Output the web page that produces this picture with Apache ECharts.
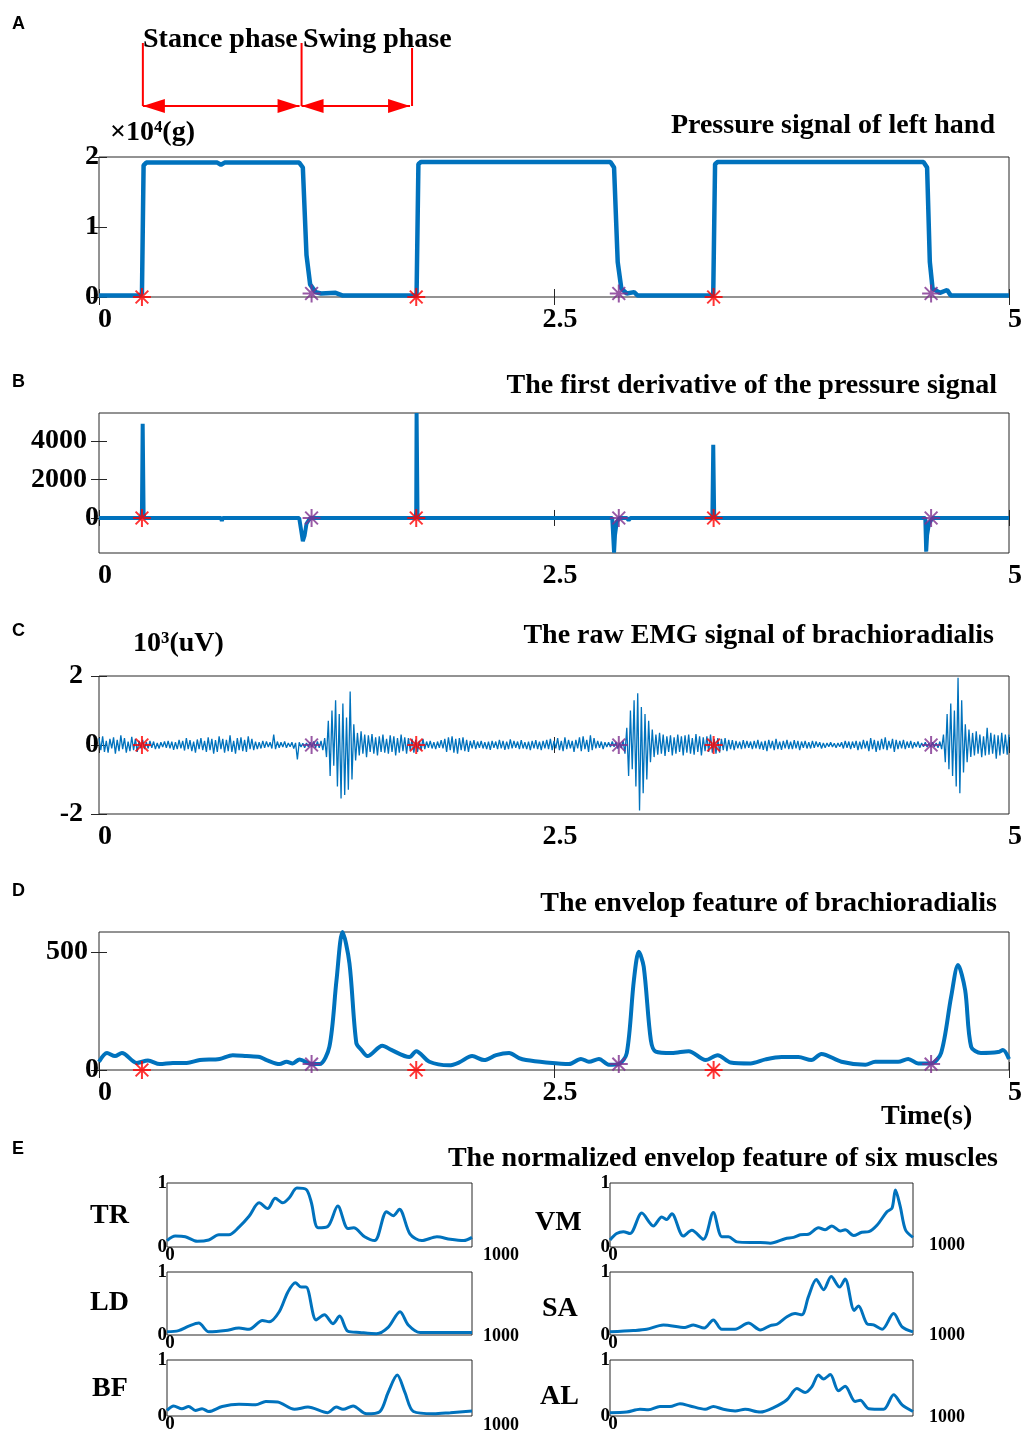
<!DOCTYPE html>
<html>
<head>
<meta charset="utf-8">
<script src="https://cdn.jsdelivr.net/npm/echarts@6/dist/echarts.min.js"></script>
<style>
html, body { margin: 0; padding: 0; background: #fff; }
#chart { width: 1025px; height: 1434px; }
</style>
</head>
<body>
<div id="chart"></div>
<script>
// ---------- data ----------
// A: pressure signal, x104 g
const pressureTime = [0, 0.22, 0.236, 0.245, 0.26, 0.65, 0.67, 0.69, 1.10, 1.12,
  1.14, 1.16, 1.19, 1.22, 1.30, 1.34, 1.74, 1.745, 1.755, 1.77,
  2.81, 2.83, 2.85, 2.87, 2.90, 2.94, 2.96, 3.37, 3.375, 3.385,
  3.40, 4.53, 4.55, 4.565, 4.58, 4.62, 4.66, 4.68, 5.0];
const pressureValue = [0.02, 0.02, 0.05, 1.88, 1.92, 1.92, 1.89, 1.92, 1.92, 1.85,
  0.6, 0.18, 0.07, 0.05, 0.06, 0.02, 0.02, 0.05, 1.9, 1.93,
  1.93, 1.85, 0.5, 0.12, 0.05, 0.07, 0.02, 0.02, 0.05, 1.9,
  1.93, 1.93, 1.85, 0.5, 0.12, 0.06, 0.1, 0.02, 0.02];

// B: first derivative
const derivTime = [0, 0.23, 0.236, 0.24, 0.245, 0.25, 0.67, 0.675, 0.68, 1.10,
  1.11, 1.12, 1.13, 1.14, 1.16, 1.30, 1.31, 1.32, 1.74, 1.743,
  1.745, 1.75, 1.755, 2.82, 2.83, 2.835, 2.845, 2.86, 2.90, 2.91,
  2.92, 3.37, 3.375, 3.38, 3.385, 4.54, 4.545, 4.55, 4.56, 4.58,
  4.62, 4.63, 5.0];
const derivValue = [0, 0, 300, 4900, 200, 0, 0, -150, 0, 0,
  -600, -1200, -900, -300, 0, 0, -100, 0, 0, 400,
  5450, 200, 0, 0, -1800, -900, -200, 0, 0, -120,
  0, 0, 3800, 200, 0, 0, -1750, -900, -300, 0,
  0, -100, 0];

// C: raw EMG, x103 uV, one sample every 0.01 s (20 per row = 0.2 s)
const emgStep = 0.01;
const emgValue = [
  0.2, -0.15, 0.25, -0.2, 0.12, -0.22, 0.18, -0.1, 0.22, -0.25, 0.15, -0.18, 0.28, -0.12, 0.2, -0.22, 0.1, -0.18, 0.24, -0.15,
  0.18, -0.2, 0.12, -0.1, 0.15, -0.12, 0.08, -0.1, 0.12, -0.08, 0.1, -0.12, 0.06, -0.1, 0.08, -0.06, 0.1, -0.08, 0.12, -0.1,
  0.1, -0.14, 0.08, -0.12, 0.15, -0.1, 0.12, -0.16, 0.2, -0.12, 0.14, -0.18, 0.1, -0.22, 0.16, -0.12, 0.2, -0.15, 0.12, -0.2,
  0.22, -0.15, 0.18, -0.25, 0.14, -0.2, 0.25, -0.12, 0.18, -0.22, 0.15, -0.18, 0.28, -0.2, 0.12, -0.25, 0.2, -0.15, 0.22, -0.18,
  0.15, -0.2, 0.25, -0.12, 0.18, -0.15, 0.1, -0.12, 0.08, -0.1, 0.12, -0.08, 0.1, -0.06, 0.08, -0.1, 0.3, -0.12, 0.1, -0.08,
  0.08, -0.06, 0.1, -0.08, 0.06, -0.05, 0.08, -0.1, 0.06, -0.42, 0.08, -0.06, 0.05, -0.08, 0.06, -0.05, 0.08, -0.06, 0.1, -0.08,
  0.1, -0.08, 0.12, -0.15, 0.2, -0.35, 0.7, -0.9, 1.0, -0.6, 1.3, -1.2, 0.9, -1.55, 1.2, -1.45, 0.8, -1.3, 1.55, -1.0,
  0.6, -0.45, 0.35, -0.3, 0.4, -0.25, 0.3, -0.35, 0.28, -0.2, 0.32, -0.25, 0.22, -0.3, 0.25, -0.2, 0.3, -0.22, 0.18, -0.25,
  0.28, -0.2, 0.25, -0.3, 0.2, -0.22, 0.3, -0.18, 0.22, -0.25, 0.2, -0.15, 0.18, -0.22, 0.15, -0.2, 0.12, -0.15, 0.18, -0.12,
  0.1, -0.08, 0.12, -0.1, 0.08, -0.12, 0.1, -0.08, 0.14, -0.1, 0.18, -0.2, 0.22, -0.15, 0.25, -0.22, 0.18, -0.25, 0.2, -0.15,
  0.22, -0.18, 0.15, -0.2, 0.12, -0.1, 0.14, -0.12, 0.1, -0.08, 0.12, -0.1, 0.08, -0.12, 0.1, -0.14, 0.12, -0.08, 0.1, -0.12,
  0.15, -0.1, 0.12, -0.14, 0.1, -0.12, 0.16, -0.1, 0.12, -0.08, 0.1, -0.12, 0.14, -0.1, 0.08, -0.12, 0.1, -0.15, 0.12, -0.1,
  0.14, -0.12, 0.1, -0.15, 0.12, -0.1, 0.15, -0.12, 0.18, -0.15, 0.12, -0.1, 0.2, -0.15, 0.12, -0.18, 0.22, -0.12, 0.15, -0.1,
  0.12, -0.2, 0.15, -0.1, 0.22, -0.18, 0.25, -0.12, 0.15, -0.2, 0.28, -0.15, 0.2, -0.1, 0.12, -0.08, 0.1, -0.12, 0.08, -0.06,
  0.08, -0.06, 0.1, -0.05, 0.08, -0.1, 0.06, -0.08, 0.12, -0.25, 0.5, -0.9, 1.0, -0.7, 1.3, -1.2, 1.5, -1.9, 1.1, -1.4,
  0.9, -1.0, 0.7, -0.5, 0.45, -0.35, 0.3, -0.28, 0.35, -0.25, 0.3, -0.32, 0.25, -0.2, 0.28, -0.3, 0.22, -0.25, 0.3, -0.2,
  0.25, -0.3, 0.28, -0.22, 0.3, -0.25, 0.2, -0.28, 0.32, -0.2, 0.25, -0.3, 0.22, -0.18, 0.25, -0.2, 0.3, -0.22, 0.18, -0.25,
  0.2, -0.22, 0.18, -0.15, 0.2, -0.18, 0.15, -0.12, 0.14, -0.15, 0.12, -0.1, 0.1, -0.12, 0.14, -0.1, 0.12, -0.08, 0.1, -0.12,
  0.12, -0.1, 0.15, -0.12, 0.1, -0.14, 0.12, -0.18, 0.15, -0.1, 0.12, -0.15, 0.18, -0.12, 0.1, -0.14, 0.12, -0.1, 0.15, -0.12,
  0.1, -0.12, 0.14, -0.1, 0.12, -0.15, 0.1, -0.08, 0.12, -0.1, 0.08, -0.1, 0.12, -0.08, 0.1, -0.06, 0.08, -0.1, 0.06, -0.08,
  0.06, -0.05, 0.08, -0.06, 0.05, -0.08, 0.06, -0.05, 0.08, -0.1, 0.12, -0.08, 0.1, -0.12, 0.1, -0.08, 0.12, -0.15, 0.1, -0.12,
  0.15, -0.1, 0.12, -0.18, 0.2, -0.12, 0.15, -0.2, 0.12, -0.15, 0.18, -0.12, 0.22, -0.15, 0.12, -0.1, 0.18, -0.2, 0.15, -0.12,
  0.12, -0.1, 0.15, -0.12, 0.1, -0.08, 0.12, -0.1, 0.08, -0.06, 0.1, -0.08, 0.06, -0.05, 0.08, -0.06, 0.05, -0.06, 0.08, -0.05,
  0.06, -0.08, 0.1, -0.12, 0.3, -0.5, 0.9, -0.7, 1.2, -0.9, 1.0, -1.2, 1.95, -1.4, 1.3, -0.8, 0.6, -0.5, 0.45, -0.35,
  0.35, -0.3, 0.4, -0.25, 0.3, -0.35, 0.25, -0.3, 0.5, -0.28, 0.35, -0.25, 0.3, -0.4, 0.28, -0.3, 0.35, -0.25, 0.3, -0.28,
  0.3
];

// D: envelope
const envTime = [0, 0.044, 0.088, 0.126, 0.208, 0.269, 0.334, 0.406, 0.482, 0.554,
  0.663, 0.735, 0.811, 0.883, 0.921, 0.992, 1.031, 1.064, 1.102, 1.168,
  1.212, 1.266, 1.305, 1.338, 1.376, 1.414, 1.442, 1.475, 1.557, 1.606,
  1.705, 1.743, 1.815, 1.924, 1.979, 2.050, 2.116, 2.182, 2.253, 2.308,
  2.346, 2.456, 2.582, 2.648, 2.692, 2.747, 2.801, 2.856, 2.900, 2.939,
  2.966, 2.993, 3.032, 3.059, 3.147, 3.240, 3.333, 3.399, 3.470, 3.580,
  3.662, 3.750, 3.843, 3.914, 3.969, 4.079, 4.211, 4.265, 4.391, 4.446,
  4.501, 4.572, 4.627, 4.682, 4.720, 4.759, 4.792, 4.846, 4.940, 4.967,
  5.0];
const envValue = [35, 72, 59, 72, 30, 40, 25, 30, 30, 42,
  47, 63, 59, 55, 42, 25, 35, 28, 45, 25,
  25, 99, 381, 585, 453, 114, 85, 59, 103, 85,
  55, 80, 35, 20, 32, 59, 42, 63, 72, 50,
  42, 32, 25, 47, 35, 47, 22, 25, 72, 381,
  501, 438, 127, 78, 72, 80, 42, 63, 32, 28,
  45, 55, 55, 42, 68, 35, 22, 35, 35, 47,
  28, 28, 72, 310, 445, 339, 99, 72, 76, 85,
  47];

// gait events (s)
const heelOnTimes = [0.236, 1.743, 3.377];
const heelOffTimes = [1.168, 2.856, 4.572];
const phaseTimes = [0.241, 1.113, 1.72];
const purpleOnCurveA = 0.05;
const purpleOnCurveD = 25;

// E: normalized envelopes of six muscles
const muscleNames = ['TR', 'LD', 'BF', 'VM', 'SA', 'AL'];
const trX = [0, 27, 60, 99, 137, 170, 203, 236, 269, 302, 330, 355, 379, 401, 426, 456, 473, 495, 527, 560, 593, 612, 648, 681, 720, 742, 762, 797, 835, 885, 929, 973, 1000];
const trY = [0.10, 0.17, 0.16, 0.09, 0.11, 0.19, 0.19, 0.31, 0.48, 0.69, 0.60, 0.76, 0.69, 0.77, 0.92, 0.90, 0.70, 0.30, 0.32, 0.64, 0.29, 0.30, 0.16, 0.10, 0.55, 0.49, 0.59, 0.20, 0.10, 0.16, 0.12, 0.10, 0.15];
const ldX = [0, 38, 71, 104, 137, 192, 236, 269, 313, 335, 368, 396, 421, 440, 456, 489, 516, 544, 566, 593, 632, 687, 725, 764, 791, 830, 896, 1000];
const ldY = [0.05, 0.07, 0.14, 0.19, 0.05, 0.07, 0.11, 0.09, 0.23, 0.21, 0.37, 0.68, 0.83, 0.76, 0.76, 0.24, 0.32, 0.18, 0.30, 0.06, 0.04, 0.02, 0.12, 0.37, 0.16, 0.04, 0.04, 0.04];
const bfX = [0, 22, 49, 71, 93, 115, 137, 181, 236, 291, 324, 363, 418, 462, 527, 555, 577, 610, 654, 698, 725, 755, 780, 808, 874, 929, 1000];
const bfY = [0.10, 0.18, 0.13, 0.17, 0.10, 0.13, 0.08, 0.17, 0.21, 0.20, 0.26, 0.25, 0.12, 0.16, 0.06, 0.16, 0.12, 0.18, 0.04, 0.08, 0.42, 0.73, 0.42, 0.08, 0.04, 0.06, 0.09];
const vmX = [0, 22, 44, 66, 105, 143, 171, 187, 204, 242, 270, 308, 341, 369, 391, 419, 463, 496, 529, 578, 606, 628, 655, 688, 710, 732, 760, 776, 804, 831, 854, 881, 914, 931, 942, 958, 975, 1000];
const vmY = [0.11, 0.21, 0.24, 0.21, 0.53, 0.33, 0.47, 0.43, 0.52, 0.17, 0.26, 0.12, 0.54, 0.16, 0.16, 0.08, 0.07, 0.07, 0.06, 0.13, 0.15, 0.19, 0.20, 0.30, 0.27, 0.33, 0.25, 0.27, 0.18, 0.23, 0.24, 0.34, 0.55, 0.61, 0.89, 0.63, 0.27, 0.15];
const saX = [0, 77, 121, 176, 248, 275, 311, 341, 369, 413, 457, 496, 529, 551, 584, 611, 633, 655, 681, 705, 730, 758, 776, 806, 820, 848, 870, 898, 936, 964, 1000];
const saY = [0.05, 0.07, 0.09, 0.16, 0.12, 0.16, 0.11, 0.24, 0.09, 0.09, 0.19, 0.08, 0.15, 0.17, 0.29, 0.34, 0.32, 0.61, 0.88, 0.72, 0.93, 0.76, 0.89, 0.39, 0.46, 0.18, 0.16, 0.09, 0.34, 0.13, 0.05];
const alX = [0, 55, 99, 127, 165, 198, 231, 264, 314, 341, 374, 413, 446, 496, 540, 584, 617, 644, 666, 688, 705, 727, 754, 776, 809, 826, 854, 903, 936, 964, 1000];
const alY = [0.06, 0.07, 0.12, 0.11, 0.17, 0.17, 0.22, 0.18, 0.12, 0.17, 0.12, 0.09, 0.12, 0.07, 0.15, 0.29, 0.49, 0.42, 0.52, 0.73, 0.66, 0.74, 0.45, 0.53, 0.26, 0.28, 0.13, 0.12, 0.38, 0.20, 0.08];
const eXEndLabel = '1000';

// ---------- styling ----------
const BLUE = '#0072BD', RED = '#FF0000', PURPLE = '#7E2F8E', AX = '#262626';
const SERIF = '"Liberation Serif","Times New Roman","DejaVu Serif",serif';
const SANS = '"Liberation Sans",Arial,sans-serif';
const ASTER = 'path://M0,-10L0,10M-10,0L10,0M-7.07,-7.07L7.07,7.07M-7.07,7.07L7.07,-7.07';

const zip = (xs, ys) => xs.map((x, i) => [x, ys[i]]);

const grids = [], xAxes = [], yAxes = [], series = [];

function addPanel(p) {
  const gi = grids.length;
  grids.push({
    show: true, left: p.box[0], top: p.box[1], width: p.box[2], height: p.box[3],
    borderColor: AX, borderWidth: 1, backgroundColor: 'rgba(0,0,0,0)'
  });
  const font = {fontFamily: SERIF, fontWeight: 'bold', fontSize: p.fs, color: '#000'};
  const tick = vals => ({
    show: vals.length > 0, inside: true, length: 8, customValues: vals,
    lineStyle: {color: AX, width: 1}
  });
  const xi = xAxes.length;
  xAxes.push({
    gridIndex: gi, type: 'value', position: 'bottom', min: p.x[0], max: p.x[1],
    axisLine: {show: false}, splitLine: {show: false}, axisTick: tick(p.xTicks),
    axisLabel: Object.assign({
      customValues: p.xLabels, margin: p.xMargin,
      formatter: v => '{p|' + v + '}',
      rich: {p: Object.assign({padding: [0, 0, 0, p.xShift]}, font)}
    }, font)
  });
  xAxes.push({
    gridIndex: gi, type: 'value', position: 'top', min: p.x[0], max: p.x[1],
    axisLine: {show: false}, splitLine: {show: false}, axisTick: tick(p.xTicks),
    axisLabel: {show: false}
  });
  const yi = yAxes.length;
  yAxes.push({
    gridIndex: gi, type: 'value', position: 'left', min: p.y[0], max: p.y[1],
    axisLine: {show: false}, splitLine: {show: false}, axisTick: tick(p.yTicks),
    axisLabel: Object.assign({
      customValues: p.yLabels, margin: p.yMargin,
      formatter: v => (v === 0 || !p.yShift) ? String(v) : '{p|' + v + '}',
      rich: {p: Object.assign({padding: [0, p.yShift || 0, 0, 0]}, font)}
    }, font)
  });
  yAxes.push({
    gridIndex: gi, type: 'value', position: 'right', min: p.y[0], max: p.y[1],
    axisLine: {show: false}, splitLine: {show: false}, axisTick: tick(p.yTicks),
    axisLabel: {show: false}
  });
  return {xi, yi};
}

function addLine(ax, data, width, smooth) {
  series.push({
    type: 'line', xAxisIndex: ax.xi, yAxisIndex: ax.yi, data: data,
    showSymbol: false, smooth: smooth || false, silent: true,
    lineStyle: {color: BLUE, width: width}, z: 2
  });
}

function addMarkers(ax, times, y, color) {
  series.push({
    type: 'scatter', xAxisIndex: ax.xi, yAxisIndex: ax.yi,
    data: times.map(t => [t, y]), symbol: ASTER, symbolSize: 18, silent: true,
    itemStyle: {color: 'rgba(0,0,0,0)', borderColor: color, borderWidth: 2}, z: 5
  });
}

const timeTicks = [0, 2.5, 5];
const W = 914;

// A
const axA = addPanel({box: [99, 157, W, 140], fs: 28, x: [0, 5], xTicks: timeTicks, xLabels: timeTicks,
  xMargin: 9, xShift: 12, y: [0, 2], yTicks: [0, 1, 2], yLabels: [0, 1, 2], yMargin: 0});
addLine(axA, zip(pressureTime, pressureValue), 4.5);
addMarkers(axA, heelOnTimes, 0, RED);
addMarkers(axA, heelOffTimes, purpleOnCurveA, PURPLE);

// B
const axB = addPanel({box: [99, 413, W, 140], fs: 28, x: [0, 5], xTicks: timeTicks, xLabels: timeTicks,
  xMargin: 9, xShift: 12, y: [-1820, 5455], yTicks: [0, 2000, 4000], yLabels: [0, 2000, 4000], yMargin: 0, yShift: 12});
addLine(axB, zip(derivTime, derivValue), 4);
addMarkers(axB, heelOnTimes, 0, RED);
addMarkers(axB, heelOffTimes, 0, PURPLE);

// C
const axC = addPanel({box: [99, 676, W, 138], fs: 28, x: [0, 5], xTicks: timeTicks, xLabels: timeTicks,
  xMargin: 9, xShift: 12, y: [-2, 2], yTicks: [-2, 0, 2], yLabels: [-2, 0, 2], yMargin: 0, yShift: 16});
addLine(axC, emgValue.map((v, i) => [i * emgStep, v]), 1.3);
addMarkers(axC, heelOnTimes, 0, RED);
addMarkers(axC, heelOffTimes, 0, PURPLE);

// D
const axD = addPanel({box: [99, 932, W, 138], fs: 28, x: [0, 5], xTicks: timeTicks, xLabels: timeTicks,
  xMargin: 9, xShift: 12, y: [0, 585], yTicks: [0, 500], yLabels: [0, 500], yMargin: 0, yShift: 11});
addLine(axD, zip(envTime, envValue), 4, 0.3);
addMarkers(axD, heelOnTimes, 0, RED);
addMarkers(axD, heelOffTimes, purpleOnCurveD, PURPLE);

// E
const eBoxes = [[167, 1183, 305, 64], [167, 1272, 305, 63], [167, 1360, 305, 63],
  [610, 1183, 303, 64], [610, 1272, 303, 63], [610, 1360, 303, 63]];
const eEndGap = [11, 11, 11, 16, 16, 16];      // px right of the box
const eEndDrop = [8, 1, 2, -2, 0, -6];         // px of label centre below the box bottom
const eData = [zip(trX, trY), zip(ldX, ldY), zip(bfX, bfY), zip(vmX, vmY), zip(saX, saY), zip(alX, alY)];
eBoxes.forEach((b, i) => {
  const ax = addPanel({box: b, fs: 19, x: [0, 1000], xTicks: [], xLabels: [0], xMargin: -1, xShift: 6,
    y: [0, 1], yTicks: [], yLabels: [0, 1], yMargin: 0});
  addLine(ax, eData[i], 3, 0.3);
});

// ---------- text ----------
const tFont = (size, fam) => ({fontFamily: fam || SERIF, fontWeight: 'bold', fontSize: size,
  lineHeight: size, color: '#000'});
const titles = [
  {text: 'A', left: 12, top: 15, textStyle: tFont(18, SANS)},
  {text: 'B', left: 12, top: 373, textStyle: tFont(18, SANS)},
  {text: 'C', left: 12, top: 622, textStyle: tFont(18, SANS)},
  {text: 'D', left: 12, top: 882, textStyle: tFont(18, SANS)},
  {text: 'E', left: 12, top: 1140, textStyle: tFont(18, SANS)},
  {text: 'Stance phase', left: 143, top: 26, textStyle: tFont(28)},
  {text: 'Swing phase', left: 303, top: 26, textStyle: tFont(28)},
  {text: '\u00d710\u2074(g)', left: 110, top: 119, textStyle: tFont(28)},
  {text: 'Pressure signal of left hand', right: 30, top: 112, textStyle: tFont(28)},
  {text: 'The first derivative of the pressure signal', right: 28, top: 372, textStyle: tFont(28)},
  {text: '10\u00b3(uV)', left: 133, top: 630, textStyle: tFont(28)},
  {text: 'The raw EMG signal of brachioradialis', right: 31, top: 622, textStyle: tFont(28)},
  {text: 'The envelop feature of brachioradialis', right: 28, top: 890, textStyle: tFont(28)},
  {text: 'Time(s)', left: 881, top: 1103, textStyle: tFont(28)},
  {text: 'The normalized envelop feature of six muscles', right: 27, top: 1145, textStyle: tFont(28)}
];
const nameLeft = [90, 90, 92, 535, 542, 540];
const nameTop = [1202, 1289, 1375, 1209, 1295, 1383];
muscleNames.forEach((n, i) => {
  titles.push({text: n, left: nameLeft[i], top: nameTop[i], textStyle: tFont(28)});
});
eBoxes.forEach((b, i) => {
  titles.push({text: eXEndLabel, left: b[0] + b[2] + eEndGap[i], top: b[1] + b[3] + eEndDrop[i] - 9,
    textStyle: tFont(18)});
});
titles.forEach(t => { t.padding = 0; });

const chart = echarts.init(document.getElementById('chart'), null, {renderer: 'canvas'});
chart.setOption({
  backgroundColor: '#fff',
  animation: false,
  title: titles,
  grid: grids,
  xAxis: xAxes,
  yAxis: yAxes,
  series: series
});

// stance / swing phase brackets, placed on panel A's time axis
const px = phaseTimes.map(t => chart.convertToPixel({xAxisIndex: axA.xi}, t));
const arrowY = 106, tops = [43, 43, 48], headL = 22, headW = 7;
const g = [];
px.forEach((x, i) => {
  g.push({type: 'line', shape: {x1: x, y1: tops[i], x2: x, y2: arrowY}, style: {stroke: RED, lineWidth: 2}});
});
[[0, 1], [1, 2]].forEach(([a, b]) => {
  const xa = px[a], xb = px[b] - 2;
  g.push({type: 'line', shape: {x1: xa, y1: arrowY, x2: xb, y2: arrowY}, style: {stroke: RED, lineWidth: 2}});
  g.push({type: 'polygon', shape: {points: [[xa, arrowY], [xa + headL, arrowY - headW], [xa + headL, arrowY + headW]]}, style: {fill: RED}});
  g.push({type: 'polygon', shape: {points: [[xb, arrowY], [xb - headL, arrowY - headW], [xb - headL, arrowY + headW]]}, style: {fill: RED}});
});
chart.setOption({graphic: g});
</script>
</body>
</html>
